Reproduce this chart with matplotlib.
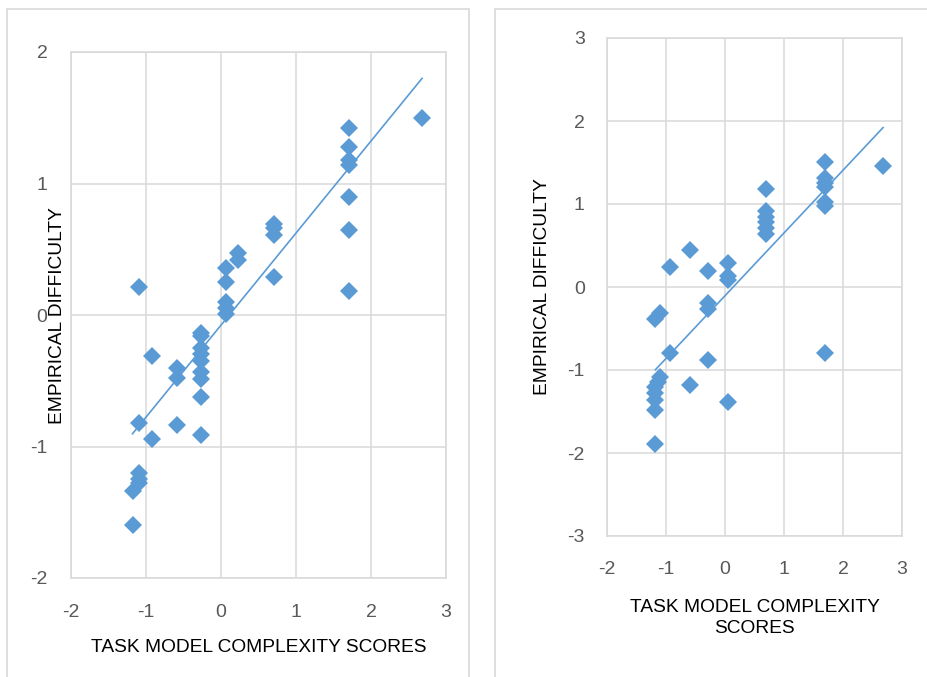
import numpy as np
import matplotlib
matplotlib.use("Agg")
import matplotlib.pyplot as plt
from matplotlib.patches import Rectangle

# task model complexity scores (x) and empirical difficulty (y)
x_left = [-1.18, -1.18,
          -1.09, -1.09, -1.09, -1.09, -1.09,
          -0.92, -0.92,
          -0.59, -0.59, -0.59,
          -0.27, -0.27, -0.27, -0.27, -0.27, -0.27, -0.27, -0.27, -0.27,
          0.07, 0.07, 0.07, 0.07, 0.07,
          0.23, 0.23,
          0.71, 0.71, 0.71, 0.71,
          1.71, 1.71, 1.71, 1.71, 1.71, 1.71, 1.71,
          2.68]
y_left = [-1.60, -1.34,
          -1.20, -1.25, -1.28, 0.21, -0.82,
          -0.31, -0.94,
          -0.40, -0.48, -0.84,
          -0.14, -0.16, -0.25, -0.30, -0.35, -0.43, -0.49, -0.62, -0.91,
          0.36, 0.25, 0.10, 0.05, 0.01,
          0.47, 0.42,
          0.69, 0.66, 0.61, 0.29,
          1.42, 1.28, 1.18, 1.14, 0.90, 0.65, 0.18,
          1.50]

x_right = [-1.18, -1.18, -1.18, -1.18, -1.18, -1.18, -1.14, -1.10, -1.10,
           -0.93, -0.93,
           -0.60, -0.60,
           -0.28, -0.28, -0.28, -0.28,
           0.05, 0.05, 0.05, 0.05,
           0.70, 0.70, 0.70, 0.70, 0.70, 0.70,
           1.69, 1.69, 1.69, 1.69, 1.69, 1.69, 1.69,
           2.68]
y_right = [-0.39, -1.20, -1.28, -1.36, -1.48, -1.89, -1.14, -1.08, -0.31,
           0.24, -0.80,
           0.45, -1.18,
           0.19, -0.19, -0.27, -0.88,
           0.29, 0.13, 0.08, -1.38,
           1.18, 0.91, 0.84, 0.78, 0.71, 0.64,
           1.51, 1.31, 1.25, 1.20, 1.03, 0.98, -0.80,
           1.46]

# linear trendlines as drawn in the source (slope, intercept)
trend_left = [0.70, -0.077]
trend_right = [0.756, -0.105]

BLUE = "#5B9BD5"
GRID = "#d9d9d9"
TICK_C = "#595959"
W, H = 927, 677

plt.rcParams["font.family"] = ["Liberation Sans", "DejaVu Sans"]
plt.rcParams["axes.unicode_minus"] = False

fig = plt.figure(figsize=(W / 100, H / 100), dpi=100)
fig.patch.set_facecolor("white")

# chart-area frames
fig.add_artist(Rectangle((7.5 / W, -0.05), (469 - 7.5) / W, 1.05 - 9 / H,
                         transform=fig.transFigure, fill=False, ec=GRID, lw=1.2))
fig.add_artist(Rectangle((495 / W, -0.05), 0.5, 1.05 - 9 / H,
                         transform=fig.transFigure, fill=False, ec=GRID, lw=1.2))


def panel(box, xs, ys, trend, ylim, xpad, ypad, ylab_xy, xlab, xlab_y):
    l, t, r, b = box
    ax = fig.add_axes([l / W, 1 - b / H, (r - l) / W, (b - t) / H])
    ax.set_xlim(-2, 3)
    ax.set_ylim(*ylim)
    ax.set_xticks(range(-2, 4))
    ax.set_yticks(range(ylim[0], ylim[1] + 1))
    ax.grid(True, color=GRID, lw=1.1)
    ax.set_axisbelow(True)
    for s in ax.spines.values():
        s.set_color(GRID)
        s.set_linewidth(1.1)
    ax.tick_params(length=0, labelsize=14, colors=TICK_C)
    ax.tick_params(axis="x", pad=xpad)
    ax.tick_params(axis="y", pad=ypad)
    xs, ys = np.asarray(xs), np.asarray(ys)
    k, c = trend
    xx = np.array([xs.min(), xs.max()])
    ax.plot(xx, k * xx + c, color=BLUE, lw=1.2, zorder=2)
    ax.plot(xs, ys, "D", color=BLUE, ms=9, mew=0, zorder=3)
    ax.text(ylab_xy[0], ylab_xy[1], "EMPIRICAL DIFFICULTY", transform=ax.transAxes,
            rotation=90, ha="center", va="center", fontsize=13.8)
    ax.text(0.5, xlab_y, xlab, transform=ax.transAxes, ha="center", va="center",
            fontsize=13.8, linespacing=1.3)
    return ax


panel((71, 52, 446, 578), x_left, y_left, trend_left, (-2, 2), 19, 17,
      (-0.035, 0.498), "TASK MODEL COMPLEXITY SCORES", -0.133)
panel((607, 38, 902, 536), x_right, y_right, trend_right, (-3, 3), 18, 16,
      (-0.217, 0.5), "TASK MODEL COMPLEXITY\nSCORES", -0.165)

fig.savefig("out.png", dpi=100)
